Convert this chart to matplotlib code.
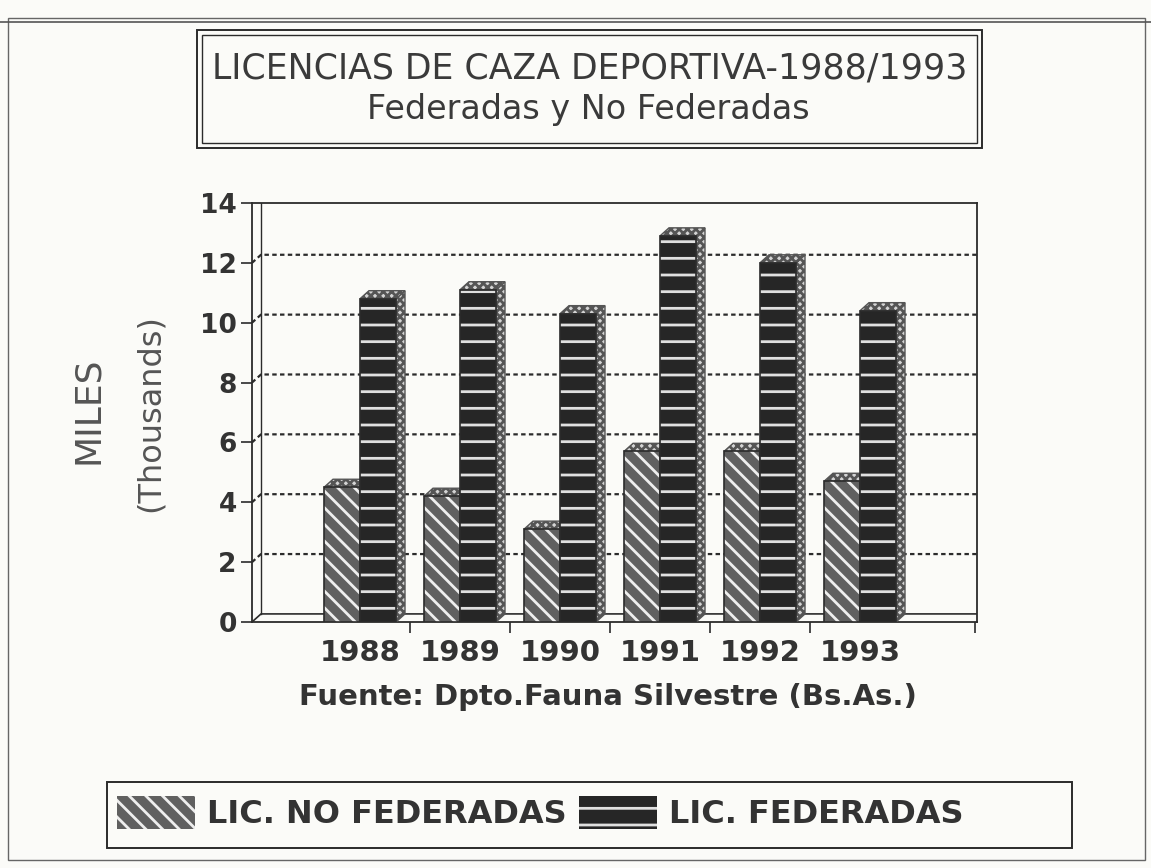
import matplotlib.pyplot as plt
from matplotlib.patches import Rectangle, Polygon, Patch

# data (thousands of licences)
years = ['1988', '1989', '1990', '1991', '1992', '1993']
no_federadas = [4.5, 4.2, 3.1, 5.7, 5.7, 4.7]
federadas = [10.8, 11.1, 10.3, 12.9, 12.0, 10.4]
yticks = [0, 2, 4, 6, 8, 10, 12, 14]

W, H = 1151, 868
ink = '#2b2b2b'
paper = '#fbfbf8'
plt.rcParams['font.family'] = ['DejaVu Sans']
plt.rcParams['hatch.linewidth'] = 2.0

fig = plt.figure(figsize=(W / 100, H / 100), dpi=100, facecolor=paper)

def fx(px):
    return px / W

def fy(py):
    return 1 - py / H

# outer frame of the page
fig.patches.append(Rectangle((fx(8), fy(860)), fx(1137), (860 - 18) / H,
                             transform=fig.transFigure, fill=False, ec='#666', lw=1))
fig.add_artist(plt.Line2D([0, 1], [fy(22), fy(22)], color='#555', lw=1.2))

# title box (double border)
for inset, lw in [(0, 1.4), (5, 1.0)]:
    fig.patches.append(Rectangle((fx(197 + inset), fy(148 - inset)), fx(785 - 2 * inset), (118 - 2 * inset) / H,
                                 transform=fig.transFigure, fill=False, ec=ink, lw=lw))
fig.text(fx(590), fy(69), 'LICENCIAS DE CAZA DEPORTIVA-1988/1993', ha='center', va='center',
         fontsize=25, color='#3a3a3a')
fig.text(fx(588), fy(110), 'Federadas y No Federadas', ha='center', va='center',
         fontsize=24, color='#3a3a3a')

# axes
ax = fig.add_axes([fx(252), fy(622), fx(977 - 252), (622 - 203) / H])
ax.set_facecolor(paper)
x0, x1 = -1.08, 6.17
ax.set_xlim(x0, x1)
ax.set_ylim(0, 14)

dx, dy = 0.09, 0.27   # 3D depth offset in data units
w = 0.36

# back wall grid
for t in yticks[1:-1]:
    ax.plot([x0, x0 + dx, x1], [t, t + dy, t + dy], color=ink, lw=1.6, ls=(0, (2, 1.5)), zorder=1)
ax.plot([x0, x0 + dx, x1], [0, dy, dy], color=ink, lw=1.2, zorder=1)
ax.plot([x0 + dx, x0 + dx], [dy, 14], color=ink, lw=1.0, zorder=1)

def bar3d(xc, vals, face, hatch, hatch_col, z):
    for x, v in zip(xc, vals):
        l, r = x - w / 2, x + w / 2
        side = Polygon([(r, 0), (r + dx, dy), (r + dx, v + dy), (r, v)], closed=True,
                       fc='#d4d4d4', ec='#555', hatch='xxxx', lw=1.0, zorder=z)
        top = Polygon([(l, v), (l + dx, v + dy), (r + dx, v + dy), (r, v)], closed=True,
                      fc='#d4d4d4', ec='#555', hatch='xxxx', lw=1.0, zorder=z)
        ax.add_patch(side)
        ax.add_patch(top)
    ax.bar(xc, vals, w, color=face, edgecolor=hatch_col, hatch=hatch, lw=0, zorder=z + 0.1)
    ax.bar(xc, vals, w, facecolor='none', edgecolor=ink, lw=1.2, zorder=z + 0.2)

idx = list(range(len(years)))
bar3d([i - w / 2 for i in idx], no_federadas, '#606060', '\\\\', '#eeeeee', 3)
bar3d([i + w / 2 for i in idx], federadas, '#262626', '-', '#e0e0e0', 4)

for s in ['top', 'right', 'left', 'bottom']:
    ax.spines[s].set_color(ink)
    ax.spines[s].set_linewidth(1.3)

ax.set_yticks(yticks)
ax.set_yticklabels([str(t) for t in yticks], fontsize=19, fontweight='bold', color='#333')
ax.tick_params(axis='y', length=8, width=1.2, color=ink, pad=3)
ax.set_xticks([i + 0.5 for i in range(5)] + [x1 - 0.02], minor=True)
ax.tick_params(axis='x', which='minor', length=8, width=1.2, color=ink, direction='out')
ax.set_xticks(idx)
ax.set_xticklabels(years, fontsize=21, fontweight='bold', color='#333')
ax.tick_params(axis='x', which='major', length=0, pad=12)

fig.text(fx(88), fy(410), 'MILES', rotation=90, ha='center', va='center', fontsize=26, color='#555')
fig.text(fx(150), fy(413), '(Thousands)', rotation=90, ha='center', va='center', fontsize=23, color='#555')
fig.text(fx(608), fy(697), 'Fuente: Dpto.Fauna Silvestre (Bs.As.)', ha='center', va='center',
         fontsize=21, fontweight='bold', color='#333')

# legend
fig.patches.append(Rectangle((fx(107), fy(848)), fx(965), 66 / H, transform=fig.transFigure,
                             fill=False, ec=ink, lw=1.4))
handles = [Patch(fc='#606060', ec='#eeeeee', hatch='\\\\', lw=0, label='LIC. NO FEDERADAS'),
           Patch(fc='#262626', ec='#e0e0e0', hatch='-', lw=0, label='LIC. FEDERADAS')]
fig.legend(handles=handles, loc='center left', bbox_to_anchor=(fx(117), fy(813)), ncol=2,
           frameon=False, prop={'size': 23, 'weight': 'bold'}, labelcolor='#333', borderpad=0,
           borderaxespad=0, handlelength=2.45, handleheight=1.25, handletextpad=0.375,
           columnspacing=0.375)

fig.savefig('out.png', dpi=100, facecolor=paper)
